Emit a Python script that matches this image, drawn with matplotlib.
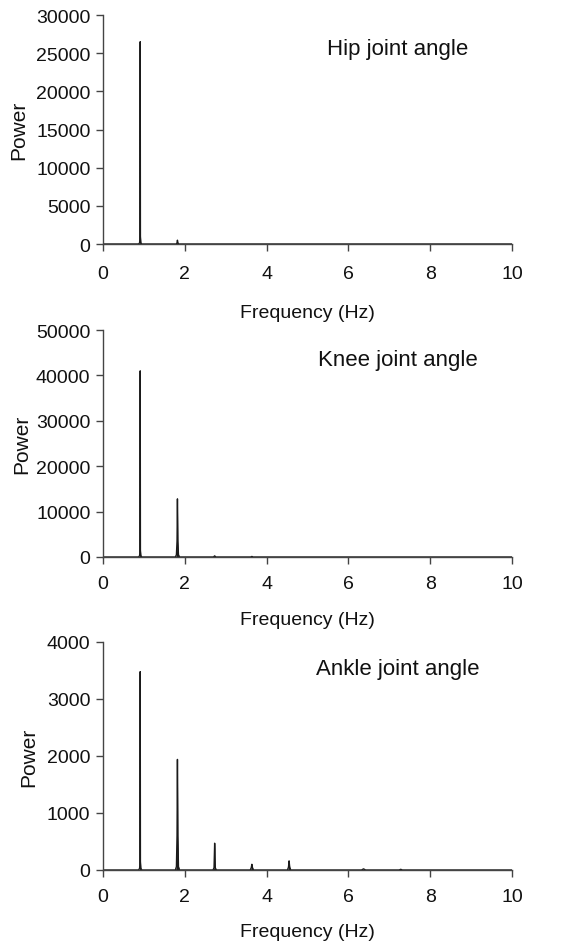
import matplotlib
matplotlib.use("Agg")
import matplotlib.pyplot as plt
import numpy as np

plt.rcParams['font.family'] = ['Liberation Sans', 'DejaVu Sans']

# Spectrum samples (frequency in Hz, power)
hip_freq = [0, 0.87, 0.895, 0.905, 0.91, 0.915, 0.925, 0.95, 1.79, 1.81, 1.82, 1.83, 1.85, 10]
hip_power = [0, 0, 150, 1000, 26500, 1000, 150, 0, 0, 150, 500, 150, 0, 0]

knee_freq = [0, 0.87, 0.895, 0.905, 0.91, 0.915, 0.925, 0.95, 1.77, 1.795, 1.81, 1.82, 1.83, 1.845, 1.87,
             2.70, 2.73, 2.76, 3.61, 3.64, 3.67, 10]
knee_power = [0, 0, 300, 1500, 41000, 1500, 300, 0, 0, 500, 3500, 12800, 3500, 500, 0,
              0, 250, 0, 0, 120, 0, 0]

ankle_freq = [0, 0.87, 0.895, 0.905, 0.91, 0.915, 0.925, 0.95, 1.77, 1.795, 1.81, 1.82, 1.83, 1.845, 1.87,
              2.69, 2.715, 2.73, 2.745, 2.77, 3.60, 3.625, 3.64, 3.655, 3.68,
              4.51, 4.535, 4.55, 4.565, 4.59, 6.32, 6.37, 6.42, 7.24, 7.28, 7.32, 10]
ankle_power = [0, 0, 30, 150, 3480, 150, 30, 0, 0, 60, 600, 1940, 600, 60, 0,
               0, 40, 470, 40, 0, 0, 40, 100, 40, 0,
               0, 50, 160, 50, 0, 0, 20, 0, 0, 12, 0, 0]

titles = ["Hip joint angle", "Knee joint angle", "Ankle joint angle"]
ymax = [30000, 50000, 4000]
ystep = [5000, 10000, 1000]
xticks = [0, 2, 4, 6, 8, 10]

series = [(hip_freq, hip_power), (knee_freq, knee_power), (ankle_freq, ankle_power)]

fig = plt.figure(figsize=(5.81, 9.45), dpi=100)
W, H = 581, 945
boxes = [(16, 245), (331, 558), (643, 871)]
left, right = 103, 512
ylab_x = [-0.183, -0.175, -0.158]
title_y = [0.855, 0.87, 0.885]
xpad = [16, 13.5, 13]
tpad = [10, 8, 8]
dark = '#1a1a1a'
axc = '#444444'

for i, ((fr, pw), (t, b)) in enumerate(zip(series, boxes)):
    ax = fig.add_axes([left / W, 1 - b / H, (right - left) / W, (b - t) / H])
    ax.plot(fr, pw, color=dark, lw=1.0)
    ax.fill_between(fr, pw, color=dark, lw=0)
    ax.set_xlim(0, 10)
    ax.set_ylim(0, ymax[i])
    ax.set_xticks(xticks)
    ax.set_yticks(np.arange(0, ymax[i] + 1, ystep[i]))
    for s in ['top', 'right']:
        ax.spines[s].set_visible(False)
    for s in ['left', 'bottom']:
        ax.spines[s].set_color(axc)
        ax.spines[s].set_linewidth(1.0)
    ax.tick_params(axis='x', direction='out', length=5, width=1.0, color=axc,
                   labelsize=14, pad=tpad[i], labelcolor='#111111')
    ax.tick_params(axis='y', direction='out', length=5, width=1.0, color=axc,
                   labelsize=14, pad=4, labelcolor='#111111')
    ax.set_xlabel("Frequency (Hz)", fontsize=14, labelpad=xpad[i], color='#111111')
    ax.set_ylabel("Power", fontsize=15, color='#111111')
    ax.yaxis.set_label_coords(ylab_x[i], 0.5)
    ax.text(0.72, title_y[i], titles[i], transform=ax.transAxes, ha='center', va='center',
            fontsize=16, color='#111111')

fig.savefig("out.png", dpi=100, facecolor='white')
